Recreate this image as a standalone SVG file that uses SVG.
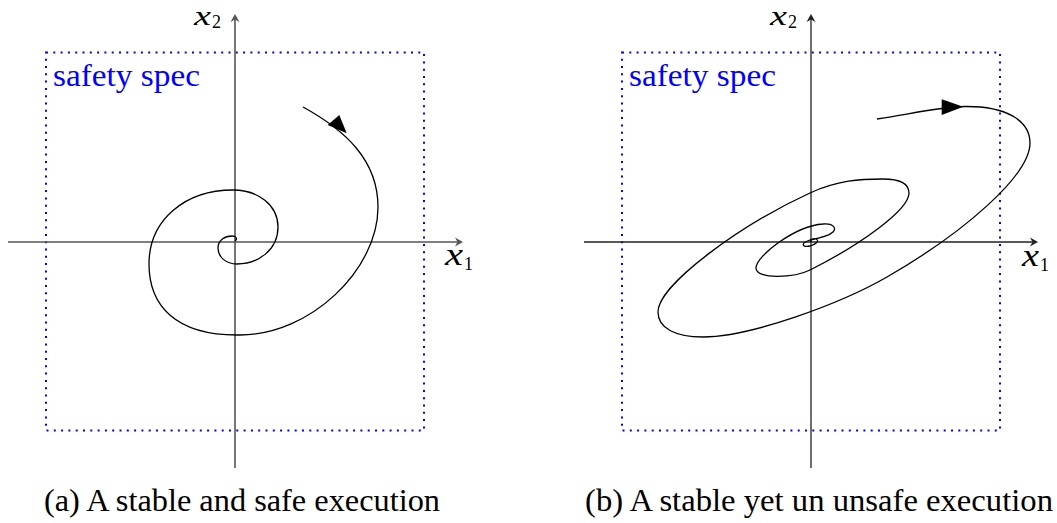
<svg xmlns="http://www.w3.org/2000/svg" width="1057" height="523" viewBox="0 0 1057 523">
<style>
.spec{fill:none;stroke:#0000ff;stroke-width:2;stroke-dasharray:2 5.3}
.axL{stroke:#555;stroke-width:1.6;fill:none}
.axR{stroke:#222;stroke-width:1.3;fill:none}
.traj{fill:none;stroke:#000;stroke-width:1.3}
.mx{font-family:"Liberation Serif","DejaVu Serif","Times New Roman",serif;font-style:italic;font-size:31px;fill:#000}
.mxt{font-family:"Liberation Serif","DejaVu Serif","Times New Roman",serif;font-style:italic;font-size:28px;fill:#000}
.sub{font-family:"Liberation Serif","DejaVu Serif","Times New Roman",serif;font-size:18px;fill:#000}
.lbl{font-family:"Liberation Serif","DejaVu Serif","Times New Roman",serif;font-size:32px;fill:#0000ff}
.cap{font-family:"Liberation Serif","DejaVu Serif","Times New Roman",serif;font-size:32px;fill:#000}
</style>
<defs>
<path id="ah" d="M0,0 L-8,-4.5 L-5.5,0 L-8,4.5 Z"/>
</defs>
<g id="panel-a">
<rect class="spec" x="46" y="52.5" width="378" height="378"/>
<g id="axes-a">
<line class="axL" x1="8" y1="242" x2="460" y2="242"/>
<line class="axL" x1="235" y1="468" x2="235" y2="17"/>
<use href="#ah" transform="translate(463,242)" fill="#555"/>
<use href="#ah" transform="translate(235,14) rotate(-90)" fill="#555"/>
</g>
<text class="mxt" x="194" y="25" textLength="17" lengthAdjust="spacingAndGlyphs">x</text><text class="sub" x="212" y="28">2</text>
<text class="mx" x="445" y="265" textLength="18" lengthAdjust="spacingAndGlyphs">x</text><text class="sub" x="464" y="270">1</text>
<text class="lbl" x="53" y="86" textLength="147" lengthAdjust="spacingAndGlyphs">safety spec</text>
<g id="traj-a">
<path class="traj" d="M303,107 C345,130 378,160 378,207 C378,270 310,335 240,335 C175,336 149,305 149,264 C149,220 185,190 233,190 C258,190 278,205 278,227 C278,250 258,264 237,264 C226,264 218,257 218,248 C218,240 225,236 232,236 C236,236 238,239 235,241"/>
<polygon points="346.7,133.3 327.7,125 339.3,115" fill="#000"/>
</g>
<text class="cap" x="44" y="511" textLength="396" lengthAdjust="spacingAndGlyphs">(a) A stable and safe execution</text>
</g>
<g id="panel-b">
<rect class="spec" x="622" y="52.5" width="378" height="378"/>
<g id="axes-b">
<line class="axR" x1="584" y1="242" x2="1035" y2="242"/>
<line class="axR" x1="811" y1="468" x2="811" y2="17"/>
<use href="#ah" transform="translate(1038,242)" fill="#222"/>
<use href="#ah" transform="translate(811,14) rotate(-90)" fill="#222"/>
</g>
<text class="mxt" x="770" y="25" textLength="17" lengthAdjust="spacingAndGlyphs">x</text><text class="sub" x="788" y="28">2</text>
<text class="mx" x="1022" y="266" textLength="17" lengthAdjust="spacingAndGlyphs">x</text><text class="sub" x="1040" y="271">1</text>
<text class="lbl" x="629" y="86" textLength="147" lengthAdjust="spacingAndGlyphs">safety spec</text>
<g id="traj-b">
<path class="traj" d="M877,119 C910,114 940,107 965,106.5 C1005,106 1030,120 1030,143 C1030,175 965,232 887,277 C840,304 750,337 703,337 C675,337 658,328 658,312 C658,285 740,225 810,193 C838,180.2 860,179 883,179 C898,179 909,183 909,193 C909,210 860,245 810,270 C795,277.5 756,280 756,268 C756,256 795,226 823,224 C833,223 837,228 833,232 C829,236 815,239 810,240 C800,243 802,248 810,246 C816,244 820,241 816,239 C813,238 810,240 811,242"/>
<polygon points="963.3,106.7 941.7,99.3 941.7,115" fill="#000"/>
</g>
<text class="cap" x="585" y="511" textLength="468" lengthAdjust="spacingAndGlyphs">(b) A stable yet un unsafe execution</text>
</g>
</svg>
